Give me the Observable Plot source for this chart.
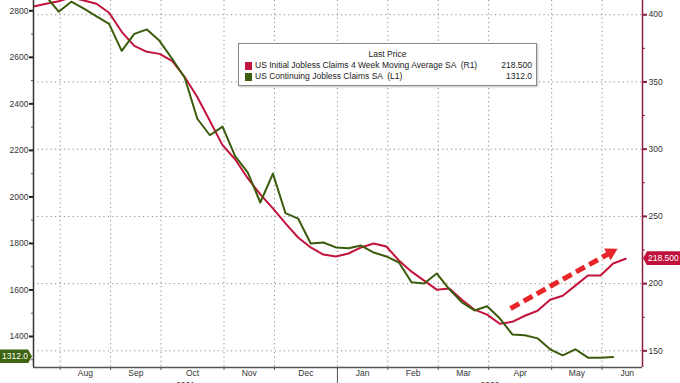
<!DOCTYPE html>
<html><head><meta charset="utf-8">
<script src="https://cdn.jsdelivr.net/npm/d3@7"></script>
<script src="https://cdn.jsdelivr.net/npm/@observablehq/plot@0.6"></script>
<style>
html,body{margin:0;padding:0;background:#fff;}
#wrap{position:relative;width:680px;height:383px;overflow:hidden;font-family:"Liberation Sans",Arial,sans-serif;}
#wrap svg{position:absolute;left:0;top:0;}
#legend{position:absolute;left:238px;top:43px;width:297px;height:41px;border:1px solid #8a8a8a;background:#fff;box-shadow:1px 1px 2px rgba(0,0,0,0.25);font-size:8.5px;color:#1a1a1a;}
#legend .lp{position:absolute;left:0;right:0;top:5px;text-align:center;}
#legend .row{position:absolute;left:6px;right:4px;height:11px;line-height:11px;}
#legend .sw{position:absolute;left:0;top:1.5px;width:7px;height:8px;}
#legend .nm{position:absolute;left:10px;white-space:pre;}
#legend .val{position:absolute;right:0;}
.badge{position:absolute;height:14px;line-height:14px;font-size:8.5px;color:#fff;white-space:nowrap;}
</style></head><body><div id="wrap"><div id="chart"></div></div>
<script>
// ---- data (weekly, index 0 = week of Fri 16 Jul 2021) ----
const initialClaims4wk = [406.2,408.2,410,413,410.6,408.2,401.5,387.3,376.9,372.4,370.9,365.7,353.7,338.8,321,303,292.5,278.4,266.4,256,244.8,234.3,226.9,221.6,220.1,222.4,226.9,229.8,227.6,217.2,208.9,202.2,195.5,196.3,188,180.6,176.9,170.1,171.6,176.1,179.8,188,191,198.5,206,206,215,218.5];
const continuingClaims = [2880,2862,2796,2839,2809,2776,2744,2628,2701,2720,2671,2594,2512,2336,2265,2302,2175,2105,1976,2100,1930,1907,1800,1804,1783,1779,1791,1761,1744,1718,1633,1628,1671,1603,1547,1512,1530,1478,1409,1405,1392,1345,1319,1345,1309,1309,1312];
const seriesNames = ["US Initial Jobless Claims 4 Week Moving Average SA  (R1)", "US Continuing Jobless Claims SA  (L1)"];
const lastPrices = ["218.500", "1312.0"];
const seriesColors = ["#c2133d", "#3b5c0c"];
const monthLabels = ["Aug","Sep","Oct","Nov","Dec","Jan","Feb","Mar","Apr","May","Jun"];
const monthStartWeek = [3,7,11,16,20,25,29,33,37,42,46,50];
const yearLabels = ["2021","2022"];
const yearStartWeek = [null, 25];
const leftTicks = [1400,1600,1800,2000,2200,2400,2600,2800];
const leftMinorTicks = [1300,1500,1700,1900,2100,2300,2500,2700];
const rightTicks = [150,200,250,300,350,400];
const rightMinorTicks = [175,225,275,325,375];
const trendArrow = [{x1:37.86, y1:181.5, x2:45.6, y2:222.0, xh:45.81, yh:223.1, tip:60.8}];

// ---- scales ----
const xDomain = [0, 48.33];
const yDomain = [137.6, 410.6];            // right axis (R1)
const leftDomain = [1266.7, 2844.3];       // left axis (L1)
const L2R = L => yDomain[0] + (L - leftDomain[0]) * (yDomain[1]-yDomain[0])/(leftDomain[1]-leftDomain[0]);
const R2L = R => leftDomain[0] + (R - yDomain[0]) * (leftDomain[1]-leftDomain[0])/(yDomain[1]-yDomain[0]);
const boundaryOffset = 0.88;
const boundaries = monthStartWeek.map(w => w - boundaryOffset);

const redData = initialClaims4wk.map((v,i)=>({i, v}));
const greenData = continuingClaims.map((v,i)=>({i, v: L2R(v)}));
const monthData = monthLabels.map((m,k)=>({label:m, x:(boundaries[k]+boundaries[k+1])/2}));
const janB = yearStartWeek[1] - boundaryOffset;
const yearData = [{label:yearLabels[0], x:(xDomain[0]+janB)/2},{label:yearLabels[1], x:(janB+xDomain[1])/2}];
const gridXs = boundaries.filter(b => b < xDomain[1]);

const maroon = "#8c1d40";
const fs = 8.5;
const chart = Plot.plot({
  width:680, height:383,
  marginLeft:33, marginRight:38, marginTop:0, marginBottom:16,
  x:{domain:xDomain, axis:null},
  y:{domain:yDomain, axis:null},
  style:{fontFamily:"Liberation Sans, Arial, sans-serif", fontSize:fs+"px", background:"#fff"},
  marks:[
    Plot.gridY(rightTicks, {stroke:"#8a8a8a", strokeOpacity:1, strokeDasharray:"1.2,3.2", strokeWidth:1}),
    Plot.gridX(gridXs, {stroke:"#8a8a8a", strokeOpacity:1, strokeDasharray:"1.2,3.2", strokeWidth:1}),
    Plot.line(redData, {x:"i", y:"v", stroke:seriesColors[0], strokeWidth:2, clip:true}),
    Plot.line(greenData, {x:"i", y:"v", stroke:seriesColors[1], strokeWidth:2, clip:true}),
    Plot.link(trendArrow, {x1:"x1", y1:"y1", x2:"x2", y2:"y2", stroke:"#e8262a", strokeWidth:5, strokeDasharray:"10,5"}),
    Plot.dot(trendArrow, {x:"xh", y:"yh", symbol:"triangle", r:5, fill:"#e8262a", stroke:"none", rotate:"tip"}),
    // axis lines
    Plot.ruleX([xDomain[0]], {stroke:"#333", strokeWidth:1.5}),
    Plot.ruleX([xDomain[1]], {stroke:maroon, strokeWidth:1.5}),
    Plot.ruleY([yDomain[0]], {stroke:"#555", strokeWidth:1.5}),
    // left axis
    Plot.axisY(leftTicks.map(L2R), {anchor:"left", tickSize:4, strokeWidth:2, color:"#222", tickFormat:()=>""}),
    Plot.axisY(leftMinorTicks.map(L2R), {anchor:"left", tickSize:2, strokeWidth:1, color:"#555", tickFormat:()=>""}),
    Plot.axisY(leftTicks.map(L2R), {anchor:"left", tickSize:0, tickPadding:5, color:"#333", tickFormat:d=>String(Math.round(R2L(d)))}),
    // right axis
    Plot.axisY(rightTicks, {anchor:"right", tickSize:4, strokeWidth:2, color:maroon, tickFormat:()=>""}),
    Plot.axisY(rightMinorTicks, {anchor:"right", tickSize:2, strokeWidth:1, color:maroon, tickFormat:()=>""}),
    Plot.axisY(rightTicks, {anchor:"right", tickSize:0, tickPadding:6, color:"#333"}),
    // bottom axis
    Plot.axisX(gridXs, {anchor:"bottom", tickSize:3, strokeWidth:1, color:"#555", tickFormat:()=>""}),
    Plot.axisX([janB], {anchor:"bottom", tickSize:16, strokeWidth:1, color:"#555", tickFormat:()=>""}),
    Plot.text(monthData, {x:"x", text:"label", frameAnchor:"bottom", dy:8, fill:"#333", fontSize:fs}),
    Plot.text(yearData, {x:"x", text:"label", frameAnchor:"bottom", dy:20, fill:"#333", fontSize:fs})
  ]
});
document.getElementById("chart").appendChild(chart);

// legend
const wrap = document.getElementById("wrap");
const lg = document.createElement("div");
lg.id = "legend";
lg.innerHTML = '<div class="lp">Last Price</div>';
seriesNames.forEach((n,k)=>{
  const r = document.createElement("div");
  r.className = "row";
  r.style.top = (16 + k*11) + "px";
  r.innerHTML = `<span class="sw" style="background:${seriesColors[k]}"></span><span class="nm"></span><span class="val"></span>`;
  r.querySelector(".nm").textContent = n;
  r.querySelector(".val").textContent = lastPrices[k];
  lg.appendChild(r);
});
wrap.appendChild(lg);

// last-value badges
const yS = chart.scale("y");
const xS = chart.scale("x");
const rb = document.createElement("div");
rb.className = "badge";
rb.textContent = lastPrices[0];
const yr = yS.apply(initialClaims4wk[initialClaims4wk.length-1]);
const xr = xS.apply(xDomain[1]);
Object.assign(rb.style, {left:(xr+1)+"px", top:(yr-7)+"px", width:(680-xr-1)+"px", background:"#c0103c", paddingLeft:"5px", boxSizing:"border-box", clipPath:"polygon(4px 0,100% 0,100% 100%,4px 100%,0 50%)"});
wrap.appendChild(rb);
const gb = document.createElement("div");
gb.className = "badge";
gb.textContent = lastPrices[1];
const yg = yS.apply(L2R(continuingClaims[continuingClaims.length-1]));
const xl = xS.apply(xDomain[0]);
Object.assign(gb.style, {left:"0px", top:(yg-7)+"px", width:(xl-1)+"px", background:"#3d6410", paddingLeft:"2px", boxSizing:"border-box", clipPath:"polygon(0 0,calc(100% - 4px) 0,100% 50%,calc(100% - 4px) 100%,0 100%)"});
wrap.appendChild(gb);
</script>
</body></html>
